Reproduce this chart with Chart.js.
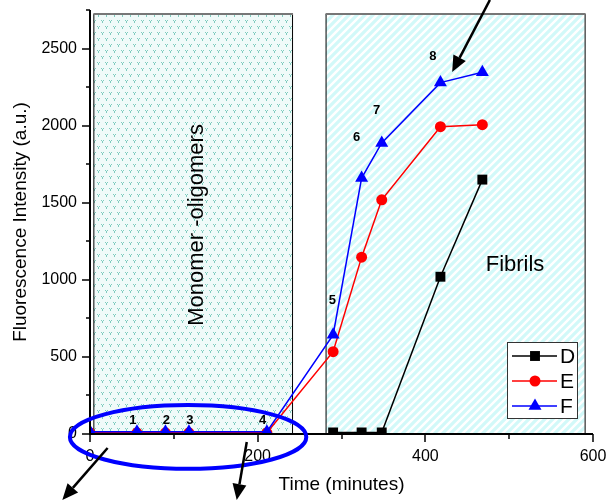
<!DOCTYPE html>
<html>
<head>
<meta charset="utf-8">
<script src="https://cdn.jsdelivr.net/npm/chart.js@4"></script>
<style>
  html, body { margin: 0; padding: 0; background: #fff; }
  #wrap { width: 615px; height: 504px; }
</style>
</head>
<body>
<div id="wrap"><canvas id="fluoChart" width="615" height="504"></canvas></div>
<script>
// time (minutes) and fluorescence (a.u.)
var timeD = [290, 324, 348, 418, 468];
var valD  = [10, 10, 10, 1020, 1650];
var timeE = [0, 56, 90, 118, 211, 290, 324, 348, 418, 468];
var valE  = [8, 8, 8, 8, 8, 534, 1147, 1519, 1993, 2006];
var timeF = [0, 56, 90, 118, 211, 290, 324, 348, 418, 468];
var valF  = [15, 15, 15, 15, 15, 643, 1660, 1888, 2279, 2346];
var seriesNames = ["D", "E", "F"];
var xTickLabels = [0, 200, 400, 600];
var yTickLabels = [0, 500, 1000, 1500, 2000, 2500];

// sample numbers written next to the points
var sampleLabels = ["1", "2", "3", "4", "5", "6", "7", "8"];
var sampleX = [51, 91, 119, 206, 289, 318, 342, 409];
var sampleY = [91, 91, 91, 91, 869, 1926, 2101, 2452];

// phase regions (in data units)
var phases = [
    {name: "Monomer -oligomers", x0: 4, x1: 241, top: 2724, textX: 127, textY: 1356, rotate: true},
    {name: "Fibrils", x0: 281, x1: 590, top: 2724, textX: 507, textY: 1096, rotate: false}
];

// arrows and highlight ellipse (data units)
var arrows = [
    {x0: 477, y0: 2815, x1: 432, y1: 2348},
    {x0: 21, y0: -91, x1: -33, y1: -428},
    {x0: 187, y0: -52, x1: 175, y1: -428}
];
var ellipse = {cx: 117, cy: -19, rx: 141, ry: 207};

function toPoints(xs, ys) {
    return xs.map((x, i) => ({x: x, y: ys[i]}));
}

function dotPattern() {
    var c = document.createElement('canvas');
    c.width = 8; c.height = 12;
    var g = c.getContext('2d');
    g.fillStyle = '#f0faf9';
    g.fillRect(0, 0, 8, 12);
    g.fillStyle = '#7fcbbe';
    g.fillRect(1, 2, 1, 1); g.fillRect(2, 3, 1, 1); g.fillRect(3, 2, 1, 1); g.fillRect(2, 4, 1, 1);
    g.fillRect(5, 8, 1, 1); g.fillRect(6, 9, 1, 1); g.fillRect(7, 8, 1, 1); g.fillRect(6, 10, 1, 1);
    return g.createPattern(c, 'repeat');
}

function stripePattern() {
    var c = document.createElement('canvas');
    c.width = 8; c.height = 8;
    var g = c.getContext('2d');
    g.fillStyle = '#d2f9f9';
    g.fillRect(0, 0, 8, 8);
    g.strokeStyle = '#ffffff';
    g.lineWidth = 2.5;
    g.beginPath();
    g.moveTo(-2, 10); g.lineTo(10, -2);
    g.moveTo(-6, 6); g.lineTo(6, -6);
    g.moveTo(2, 14); g.lineTo(14, 2);
    g.stroke();
    return g.createPattern(c, 'repeat');
}

var phasePlugin = {
    id: 'phases',
    beforeDatasetsDraw(chart) {
        var ctx = chart.ctx, xs = chart.scales.x, ys = chart.scales.y;
        var fills = [dotPattern(), stripePattern()];
        ctx.save();
        phases.forEach((p, i) => {
            var l = xs.getPixelForValue(p.x0), r = xs.getPixelForValue(p.x1);
            var t = ys.getPixelForValue(p.top), b = ys.getPixelForValue(0);
            ctx.fillStyle = fills[i];
            ctx.fillRect(l, t, r - l, b - t);
            ctx.strokeStyle = '#000';
            ctx.lineWidth = 1;
            ctx.beginPath();
            ctx.moveTo(l + 0.5, b); ctx.lineTo(l + 0.5, t);
            ctx.moveTo(r + 0.5, t); ctx.lineTo(r + 0.5, b);
            ctx.stroke();
            ctx.strokeStyle = '#777';
            ctx.lineWidth = 2;
            ctx.beginPath();
            ctx.moveTo(l, t); ctx.lineTo(r + 1, t);
            ctx.stroke();
            ctx.fillStyle = '#000';
            ctx.font = '22px "Liberation Sans", Arial, sans-serif';
            ctx.textAlign = 'center';
            ctx.textBaseline = 'middle';
            var tx = xs.getPixelForValue(p.textX), ty = ys.getPixelForValue(p.textY);
            if (p.rotate) {
                ctx.save();
                ctx.translate(tx, ty);
                ctx.rotate(-Math.PI / 2);
                ctx.fillText(p.name, 0, 0);
                ctx.restore();
            } else {
                ctx.fillText(p.name, tx, ty);
            }
        });
        ctx.restore();
    }
};

function drawMarker(ctx, style, x, y, r, color) {
    ctx.fillStyle = color;
    ctx.beginPath();
    if (style === 'rect') {
        var s = r * Math.SQRT1_2;
        ctx.rect(x - s, y - s, 2 * s, 2 * s);
    } else if (style === 'circle') {
        ctx.arc(x, y, r, 0, Math.PI * 2);
    } else {
        ctx.moveTo(x, y - r);
        ctx.lineTo(x + r * 0.866, y + r * 0.5);
        ctx.lineTo(x - r * 0.866, y + r * 0.5);
        ctx.closePath();
    }
    ctx.fill();
}

var decorPlugin = {
    id: 'decor',
    afterDraw(chart) {
        var ctx = chart.ctx, xs = chart.scales.x, ys = chart.scales.y;
        var area = chart.chartArea;
        ctx.save();
        // axes with major/minor ticks
        ctx.strokeStyle = '#000';
        ctx.lineWidth = 2;
        ctx.beginPath();
        ctx.moveTo(area.left, area.top); ctx.lineTo(area.left, area.bottom + 1);
        ctx.moveTo(area.left - 1, area.bottom); ctx.lineTo(area.right, area.bottom);
        ctx.stroke();
        ctx.lineWidth = 1.5;
        ctx.beginPath();
        for (var v = 0; v <= 2750; v += 250) {
            var py = Math.round(ys.getPixelForValue(v));
            var len = v % 500 === 0 ? 8 : 4;
            ctx.moveTo(area.left, py); ctx.lineTo(area.left - len, py);
        }
        for (var t = 0; t <= 600; t += 100) {
            var px = Math.round(xs.getPixelForValue(t));
            var tl = t % 200 === 0 ? 8 : 5;
            ctx.moveTo(px, area.bottom); ctx.lineTo(px, area.bottom + tl);
        }
        ctx.stroke();

        // sample numbers
        ctx.fillStyle = '#000';
        ctx.font = 'bold 13px "Liberation Sans", Arial, sans-serif';
        ctx.textAlign = 'center';
        ctx.textBaseline = 'middle';
        sampleLabels.forEach((s, i) => {
            ctx.fillText(s, xs.getPixelForValue(sampleX[i]), ys.getPixelForValue(sampleY[i]));
        });

        // legend box
        var lx = 507, ly = 342, lw = 70, lh = 76;
        ctx.fillStyle = '#fff';
        ctx.fillRect(lx, ly, lw, lh);
        ctx.strokeStyle = '#333';
        ctx.lineWidth = 1;
        ctx.strokeRect(lx + 0.5, ly + 0.5, lw, lh);
        chart.data.datasets.forEach((ds, i) => {
            var ry = ly + 14 + i * 25;
            ctx.strokeStyle = ds.borderColor;
            ctx.lineWidth = 1.5;
            ctx.beginPath();
            ctx.moveTo(lx + 5, ry); ctx.lineTo(lx + 50, ry);
            ctx.stroke();
            drawMarker(ctx, ds.pointStyle, lx + 28, ry, ds.pointRadius, ds.pointBackgroundColor);
            ctx.fillStyle = '#000';
            ctx.font = '21px "Liberation Sans", Arial, sans-serif';
            ctx.textAlign = 'left';
            ctx.fillText(ds.label, lx + 53, ry + 1);
        });

        // highlight ellipse
        var ecx = xs.getPixelForValue(ellipse.cx), ecy = ys.getPixelForValue(ellipse.cy);
        var erx = xs.getPixelForValue(ellipse.cx + ellipse.rx) - ecx;
        var ery = ecy - ys.getPixelForValue(ellipse.cy + ellipse.ry);
        ctx.strokeStyle = '#0000ff';
        ctx.lineWidth = 4;
        ctx.beginPath();
        ctx.ellipse(ecx, ecy, erx, ery, 0, 0, Math.PI * 2);
        ctx.stroke();

        // arrows
        arrows.forEach(a => {
            var x0 = xs.getPixelForValue(a.x0), y0 = ys.getPixelForValue(a.y0);
            var x1 = xs.getPixelForValue(a.x1), y1 = ys.getPixelForValue(a.y1);
            var ang = Math.atan2(y1 - y0, x1 - x0);
            var hl = 16, hw = 7;
            var bx = x1 - hl * Math.cos(ang), by = y1 - hl * Math.sin(ang);
            ctx.strokeStyle = '#000';
            ctx.lineWidth = 2.5;
            ctx.beginPath();
            ctx.moveTo(x0, y0); ctx.lineTo(bx, by);
            ctx.stroke();
            ctx.fillStyle = '#000';
            ctx.beginPath();
            ctx.moveTo(x1, y1);
            ctx.lineTo(bx + hw * Math.sin(ang), by - hw * Math.cos(ang));
            ctx.lineTo(bx - hw * Math.sin(ang), by + hw * Math.cos(ang));
            ctx.closePath();
            ctx.fill();
        });
        ctx.restore();
    }
};

var ctx = document.getElementById('fluoChart').getContext('2d');
var fluoChart = new Chart(ctx, {
    type: 'scatter',
    data: {
        datasets: [{
            label: seriesNames[0],
            data: toPoints(timeD, valD),
            showLine: true,
            borderColor: '#000000',
            borderWidth: 1.5,
            pointStyle: 'rect',
            pointRadius: 7,
            pointBackgroundColor: '#000000',
            pointBorderWidth: 0,
            order: 3
        }, {
            label: seriesNames[1],
            data: toPoints(timeE, valE),
            showLine: true,
            borderColor: '#ff0000',
            borderWidth: 1.5,
            pointStyle: 'circle',
            pointRadius: 5.5,
            pointBackgroundColor: '#ff0000',
            pointBorderWidth: 0,
            order: 2
        }, {
            label: seriesNames[2],
            data: toPoints(timeF, valF),
            showLine: true,
            borderColor: '#0000ff',
            borderWidth: 1.5,
            pointStyle: 'triangle',
            pointRadius: 7.5,
            pointBackgroundColor: '#0000ff',
            pointBorderWidth: 0,
            order: 1
        }]
    },
    options: {
        responsive: false,
        animation: false,
        layout: {padding: {top: 10, right: 22, left: 0, bottom: 0}},
        plugins: {legend: {display: false}, tooltip: {enabled: false}},
        scales: {
            x: {
                type: 'linear',
                min: 0, max: 600,
                afterFit: s => { s.height = 70; s.paddingLeft = 0; s.paddingRight = 0; },
                grid: {display: false, drawTicks: false},
                border: {display: false},
                ticks: {
                    stepSize: 100,
                    padding: 13,
                    color: '#000',
                    font: {family: '"Liberation Sans", Arial, sans-serif', size: 16},
                    callback: v => xTickLabels.includes(v) ? String(v) : ''
                },
                title: {
                    display: true,
                    text: 'Time (minutes)',
                    color: '#000',
                    font: {family: '"Liberation Sans", Arial, sans-serif', size: 19},
                    padding: {top: 0, bottom: 8}
                }
            },
            y: {
                type: 'linear',
                min: 0, max: 2750,
                afterFit: s => { s.width = 90; s.paddingTop = 0; s.paddingBottom = 0; },
                grid: {display: false, drawTicks: false},
                border: {display: false},
                ticks: {
                    stepSize: 250,
                    padding: 13,
                    color: '#000',
                    font: {family: '"Liberation Sans", Arial, sans-serif', size: 16},
                    callback: v => yTickLabels.includes(v) ? String(v) : ''
                },
                title: {
                    display: true,
                    text: 'Fluorescence Intensity (a.u.)',
                    color: '#000',
                    font: {family: '"Liberation Sans", Arial, sans-serif', size: 19},
                    padding: {top: 9, bottom: 0}
                }
            }
        }
    },
    plugins: [phasePlugin, decorPlugin]
});
</script>
</body>
</html>
